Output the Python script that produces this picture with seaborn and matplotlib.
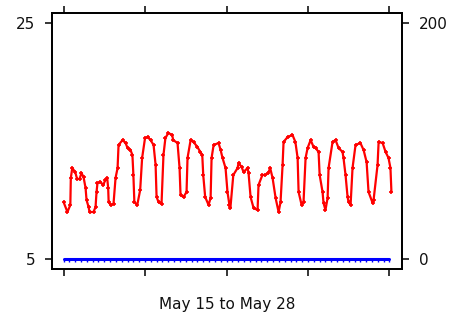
import matplotlib
matplotlib.use("Agg")
import matplotlib.pyplot as plt
import seaborn as sns
import pandas as pd

# Red series: temperature (left axis), hours since May 15
red_hours = [0, 4, 7, 7.5, 9, 12, 14, 16.5, 18.5, 20.6, 22.7, 23.7, 25.8, 26.8, 30.9, 33, 34, 35,
             38, 41, 43, 45, 46, 46.5, 48.5, 51.5, 53.6, 55.7, 56.7, 60.8, 63.9, 66, 69, 71, 72, 73,
             76, 79, 81, 84, 86.6, 89.7, 92.8, 94.9, 95.9, 97.9, 101, 103, 105, 108, 112, 113,
             117.5, 119.6, 120.6, 123.7, 126.8, 127.8, 131, 134, 138, 141, 143, 144, 146, 149.5,
             151.6, 152.6, 154.7, 159.8, 161.9, 163.9, 167, 169, 171, 172, 175, 179.4, 180.4,
             183.5, 185.6, 189.7, 190.7, 192.8, 195.9, 200, 201, 205, 208, 211, 213, 215.5, 218.6,
             221.7, 223.7, 225.8, 226.8, 231, 236, 239, 241.3, 242.3, 245.4, 247.4, 249.5, 251.6,
             254.7, 257.8, 259.8, 262.9, 264, 267, 268, 270, 272.2, 273.2, 277.3, 280.4, 283.5,
             287.6, 288.6, 290.7, 292.8, 293.8, 295.9, 297.9, 301, 306, 309.3, 312.4, 314.4,
             318.6, 319.6, 323.7, 324.8, 328.9, 332, 335, 337, 338]
red_values = [9.83, 8.98, 9.58, 11.86, 12.71, 12.37, 11.78, 11.78, 12.29, 11.95, 11.02, 10.0, 9.41,
              8.98, 8.98, 9.41, 10.68, 11.44, 11.53, 11.27, 11.69, 11.86, 11.02, 9.83, 9.58, 9.66,
              11.86, 12.71, 14.66, 15.08, 14.83, 14.41, 14.24, 13.81, 12.12, 9.83, 9.58, 10.85,
              13.56, 15.25, 15.34, 15.08, 14.66, 12.97, 10.25, 9.83, 9.66, 13.81, 15.25, 15.68,
              15.51, 15.08, 14.83, 12.71, 10.42, 10.25, 10.68, 13.56, 15.08, 14.92, 14.49, 14.07,
              13.81, 12.12, 10.25, 9.58, 10.17, 13.56, 14.66, 14.83, 14.24, 13.56, 12.71, 10.68,
              9.58, 9.32, 12.12, 12.71, 13.14, 12.80, 12.37, 12.71, 12.29, 10.25, 9.32, 9.15,
              11.27, 12.12, 12.12, 12.29, 12.71, 11.86, 10.17, 8.98, 9.83, 12.97, 14.92, 15.34,
              15.51, 14.92, 13.56, 10.68, 9.58, 9.83, 13.56, 14.41, 15.08, 14.49, 14.41, 14.07,
              12.12, 10.68, 9.75, 9.15, 10.17, 12.71, 14.92, 15.08, 14.41, 14.07, 13.56, 12.12,
              10.25, 9.83, 9.58, 12.71, 14.66, 14.83, 14.24, 13.22, 10.68, 9.75, 10.0, 12.97,
              14.92, 14.83, 14.07, 13.56, 12.71, 10.68]

# Blue series: right axis, every 6 hours
blue_hours = [0, 6, 12, 18, 24, 30, 36, 42, 48, 54, 60, 66, 72, 78, 84, 90, 96, 102, 108, 114,
              120, 126, 132, 138, 144, 150, 156, 162, 168, 174, 180, 186, 192, 198, 204, 210,
              216, 222, 228, 234, 240, 246, 252, 258, 264, 270, 276, 282, 288, 294, 300, 306,
              312, 318, 324, 330, 336]
blue_values = [0, 0, 0, 0, 0, 0, 0, 0, 0, 0, 0, 0, 0, 0, 0, 0, 0, 0, 0, 0,
               0, 0, 0, 0, 0, 0, 0, 0, 0, 0, 0, 0, 0, 0, 0, 0, 0, 0, 0, 0,
               0, 0, 0, 0, 0, 0, 0, 0, 0, 0, 0, 0, 0, 0, 0, 0, 0]

x_ticks = [0, 84, 168, 252, 336]
left_ticks = [5, 25]
right_ticks = [0, 200]
x_label = "May 15 to May 28"

sns.set_style("white")
plt.rcParams["font.family"] = ["DejaVu Sans"]

red_df = pd.DataFrame({"hour": red_hours, "value": red_values})
blue_df = pd.DataFrame({"hour": blue_hours, "value": blue_values})

fig = plt.figure(figsize=(4.57, 3.14), dpi=100)
ax = fig.add_axes([52 / 457, 1 - 269 / 314, 350 / 457, 256 / 314])
ax2 = ax.twinx()

sns.lineplot(data=red_df, x="hour", y="value", ax=ax, color="#ff0000", linewidth=1.6,
             marker="+", markersize=3.5, markeredgewidth=1.2, markeredgecolor="#ff0000",
             sort=False, estimator=None)
sns.lineplot(data=blue_df, x="hour", y="value", ax=ax2, color="#0000ff", linewidth=2.2,
             marker=3, markersize=2.5, markeredgewidth=1.0, markeredgecolor="#0000ff",
             sort=False, estimator=None)

ax.set_xlim(-11.9, 348.9)
ax.set_ylim(4.15, 25.85)
ax2.set_ylim(-8.5, 208.5)

ax.set_xticks(x_ticks)
ax.set_xticklabels([])
ax.set_yticks(left_ticks)
ax.set_yticklabels([str(t) for t in left_ticks])
ax2.set_yticks(right_ticks)
ax2.set_yticklabels([str(t) for t in right_ticks])

ax.set_xlabel(x_label, fontsize=11, color="#111111", labelpad=12)
ax.set_ylabel("")
ax2.set_ylabel("")

ax.tick_params(axis="x", which="both", direction="out", length=5, width=1.1,
               top=True, bottom=True, color="black")
ax.tick_params(axis="y", direction="out", length=5, width=1.1, pad=7,
               labelsize=11, color="black", labelcolor="#111111")
ax2.tick_params(axis="y", direction="out", length=5, width=1.1, pad=7,
                labelsize=11, color="black", labelcolor="#111111")

for a in (ax, ax2):
    for s in a.spines.values():
        s.set_visible(True)
        s.set_color("black")
        s.set_linewidth(1.3)

fig.savefig("out.png", dpi=100)
